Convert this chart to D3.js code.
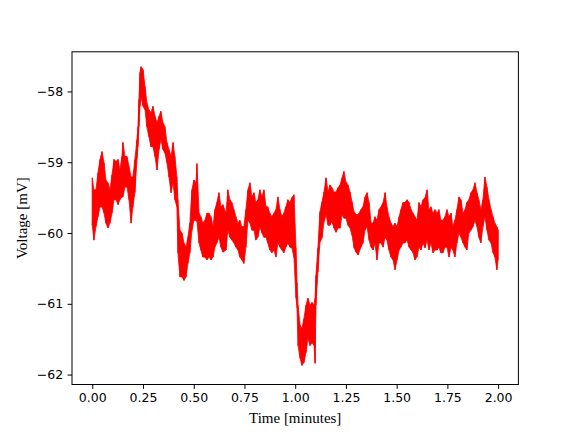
<!DOCTYPE html>
<html>
<head>
<meta charset="utf-8">
<script src="https://cdn.jsdelivr.net/npm/d3@7"></script>
<style>
  html, body { margin: 0; padding: 0; background: #fff; }
  svg { display: block; }
</style>
</head>
<body>
<script>
// Time in minutes (sample positions)
const time = [0.000,0.008,0.018,0.028,0.038,0.048,0.058,0.067,0.077,0.087,0.097,0.107,0.117,0.127,0.136,0.146,0.151,0.161,0.171,0.181,0.191,0.200,0.210,0.220,0.225,0.230,0.235,0.240,0.250,0.260,0.269,0.279,0.289,0.299,0.309,0.319,0.329,0.338,0.348,0.358,0.368,0.378,0.388,0.398,0.407,0.417,0.422,0.432,0.442,0.452,0.462,0.471,0.481,0.491,0.501,0.511,0.516,0.526,0.535,0.545,0.555,0.565,0.575,0.585,0.595,0.604,0.614,0.624,0.634,0.644,0.659,0.668,0.678,0.688,0.698,0.708,0.718,0.727,0.737,0.747,0.757,0.767,0.777,0.787,0.797,0.806,0.816,0.826,0.836,0.846,0.856,0.865,0.875,0.885,0.895,0.905,0.915,0.925,0.934,0.944,0.954,0.964,0.974,0.984,0.994,1.004,1.009,1.014,1.024,1.033,1.043,1.053,1.063,1.073,1.083,1.093,1.098,1.102,1.112,1.122,1.132,1.142,1.152,1.162,1.171,1.181,1.191,1.201,1.211,1.221,1.231,1.240,1.250,1.260,1.270,1.280,1.290,1.300,1.310,1.324,1.334,1.344,1.354,1.364,1.374,1.384,1.393,1.403,1.413,1.423,1.433,1.443,1.452,1.462,1.472,1.482,1.492,1.502,1.512,1.521,1.531,1.541,1.551,1.561,1.571,1.581,1.590,1.600,1.610,1.620,1.630,1.640,1.650,1.659,1.669,1.679,1.689,1.699,1.708,1.718,1.728,1.738,1.748,1.758,1.768,1.777,1.787,1.797,1.807,1.817,1.827,1.837,1.846,1.856,1.866,1.876,1.886,1.896,1.905,1.915,1.925,1.935,1.945,1.955,1.965,1.975,1.984,1.994,2.000];

// Upper envelope of the noisy voltage trace (mV)
const voltHigh = [-59.22,-59.39,-59.39,-59.15,-58.96,-58.85,-59.01,-59.25,-59.29,-59.39,-59.18,-58.96,-58.99,-58.96,-59.11,-58.92,-58.72,-58.92,-58.92,-59.06,-59.21,-59.21,-58.96,-58.68,-58.50,-58.11,-57.73,-57.65,-57.69,-57.93,-58.16,-58.26,-58.30,-58.21,-58.35,-58.44,-58.35,-58.28,-58.44,-58.50,-58.72,-58.82,-58.92,-58.72,-58.92,-59.21,-59.53,-59.96,-60.00,-60.14,-60.20,-60.06,-59.86,-59.39,-59.25,-59.29,-59.02,-59.72,-59.77,-59.86,-59.82,-59.72,-59.72,-59.77,-59.91,-59.67,-59.57,-59.43,-59.63,-59.60,-59.72,-59.39,-59.53,-59.57,-59.67,-59.77,-59.86,-59.82,-59.91,-59.91,-59.67,-59.39,-59.29,-59.49,-59.43,-59.57,-59.53,-59.39,-59.49,-59.39,-59.63,-59.63,-59.72,-59.77,-59.72,-59.67,-59.49,-59.67,-59.77,-59.72,-59.63,-59.53,-59.57,-59.50,-59.46,-60.21,-60.70,-61.02,-61.30,-61.35,-61.21,-61.02,-60.92,-61.02,-60.98,-61.02,-60.92,-60.60,-60.21,-59.70,-59.56,-59.42,-59.22,-59.42,-59.32,-59.36,-59.42,-59.42,-59.36,-59.32,-59.22,-59.13,-59.28,-59.32,-59.42,-59.56,-59.70,-59.74,-59.74,-59.67,-59.63,-59.49,-59.43,-59.57,-59.86,-59.86,-59.77,-59.82,-59.67,-59.63,-59.57,-59.43,-59.63,-59.77,-59.86,-59.91,-59.86,-59.91,-59.77,-59.67,-59.57,-59.57,-59.53,-59.57,-59.67,-59.72,-59.77,-59.82,-59.57,-59.63,-59.53,-59.50,-59.39,-59.67,-59.63,-59.72,-59.67,-59.72,-59.67,-59.82,-59.82,-59.77,-59.67,-59.77,-59.72,-59.91,-59.82,-59.67,-59.49,-59.53,-59.72,-59.67,-59.57,-59.53,-59.43,-59.39,-59.29,-59.43,-59.53,-59.67,-59.53,-59.21,-59.35,-59.53,-59.67,-59.77,-59.86,-59.91,-59.96];

// Lower envelope of the noisy voltage trace (mV)
const voltLow = [-59.89,-60.10,-59.91,-59.77,-59.63,-59.63,-59.72,-59.86,-59.93,-59.86,-59.72,-59.53,-59.53,-59.60,-59.53,-59.49,-59.49,-59.35,-59.35,-59.53,-59.86,-59.63,-59.43,-58.96,-58.78,-58.50,-58.21,-58.07,-58.21,-58.26,-58.50,-58.64,-58.78,-58.78,-58.92,-59.11,-58.82,-58.68,-58.82,-58.87,-59.01,-59.21,-59.43,-59.29,-59.53,-59.63,-60.28,-60.62,-60.62,-60.67,-60.62,-60.43,-60.28,-59.96,-59.82,-59.82,-59.84,-60.14,-60.24,-60.34,-60.34,-60.38,-60.34,-60.38,-60.34,-60.20,-60.14,-60.06,-60.20,-60.27,-60.24,-59.96,-60.06,-60.10,-60.14,-60.20,-60.24,-60.34,-60.38,-60.43,-60.20,-59.82,-59.86,-59.96,-59.96,-60.10,-60.06,-59.91,-60.00,-60.06,-60.06,-60.14,-60.24,-60.28,-60.24,-60.34,-60.14,-60.20,-60.24,-60.28,-60.20,-60.14,-60.20,-60.21,-60.35,-60.92,-61.06,-61.59,-61.77,-61.87,-61.83,-61.69,-61.49,-61.59,-61.55,-61.59,-61.84,-61.02,-60.55,-60.13,-60.07,-59.84,-59.74,-59.89,-59.89,-59.84,-59.93,-59.99,-59.93,-59.93,-59.74,-59.79,-59.79,-59.89,-59.93,-60.03,-60.21,-60.27,-60.31,-60.20,-60.14,-59.96,-59.91,-60.10,-60.20,-60.24,-60.14,-60.38,-60.14,-60.14,-60.20,-60.06,-60.10,-60.24,-60.34,-60.38,-60.52,-60.38,-60.24,-60.20,-60.14,-60.14,-60.10,-60.20,-60.24,-60.28,-60.38,-60.34,-60.20,-60.24,-60.14,-60.21,-60.10,-60.24,-60.14,-60.28,-60.24,-60.24,-60.20,-60.28,-60.28,-60.20,-60.20,-60.34,-60.20,-60.24,-60.34,-60.14,-60.00,-60.06,-60.14,-60.20,-60.24,-60.00,-59.96,-59.91,-59.82,-59.91,-60.06,-60.14,-59.91,-59.77,-59.96,-60.10,-60.14,-60.28,-60.34,-60.52,-60.38];

const xTicks = [0, 0.25, 0.5, 0.75, 1.0, 1.25, 1.5, 1.75, 2.0];
const yTicks = [-62, -61, -60, -59, -58];
const xLabel = "Time [minutes]";
const yLabel = "Voltage [mV]";

const W = 576, H = 432;
const L = 72, R = 518.4, T = 51.8, B = 384.5;

const data = time.map((t, i) => ({t: t, hi: voltHigh[i], lo: voltLow[i]}));

const svg = d3.select("body").append("svg").attr("width", W).attr("height", H);

const x = d3.scaleLinear().domain([-0.1, 2.1]).range([L, R]);
const y = d3.scaleLinear().domain([-62.14, -57.44]).range([B, T]);

const area = d3.area().x(d => x(d.t)).y0(d => y(d.lo)).y1(d => y(d.hi));
svg.append("path").datum(data).attr("d", area)
  .attr("fill", "#ff0000").attr("stroke", "#ff0000").attr("stroke-width", 0.8)
  .attr("stroke-linejoin", "miter");

// zigzag trace between envelope values
const zig = [];
data.forEach(d => { zig.push([d.t, d.hi]); zig.push([d.t, d.lo]); });
svg.append("path").datum(zig)
  .attr("d", d3.line().x(d => x(d[0])).y(d => y(d[1])))
  .attr("fill", "none").attr("stroke", "#ff0000").attr("stroke-width", 0.7);

const xAxis = d3.axisBottom(x).tickValues(xTicks).tickFormat(d3.format(".2f"))
  .tickSize(4.4).tickPadding(4.4);
const yAxis = d3.axisLeft(y).tickValues(yTicks).tickFormat(d3.format("d"))
  .tickSize(4.4).tickPadding(4.4);

const gx = svg.append("g").attr("transform", `translate(0,${B})`).call(xAxis);
const gy = svg.append("g").attr("transform", `translate(${L},0)`).call(yAxis);
[gx, gy].forEach(g => {
  g.select(".domain").remove();
  g.selectAll(".tick line").attr("stroke", "#000").attr("stroke-width", 1);
  g.selectAll(".tick text").attr("fill", "#000")
    .style("font-family", "'DejaVu Sans'").style("font-size", "12.5px");
});

svg.append("rect").attr("x", L).attr("y", T).attr("width", R - L).attr("height", B - T)
  .attr("fill", "none").attr("stroke", "#000").attr("stroke-width", 1);

svg.append("text").attr("x", (L + R) / 2).attr("y", 423).attr("text-anchor", "middle")
  .style("font-family", "'Liberation Serif'").style("font-size", "15px").text(xLabel);
svg.append("text").attr("transform", `translate(27,${(T + B) / 2}) rotate(-90)`)
  .attr("text-anchor", "middle")
  .style("font-family", "'Liberation Serif'").style("font-size", "15px").text(yLabel);
</script>
</body>
</html>
